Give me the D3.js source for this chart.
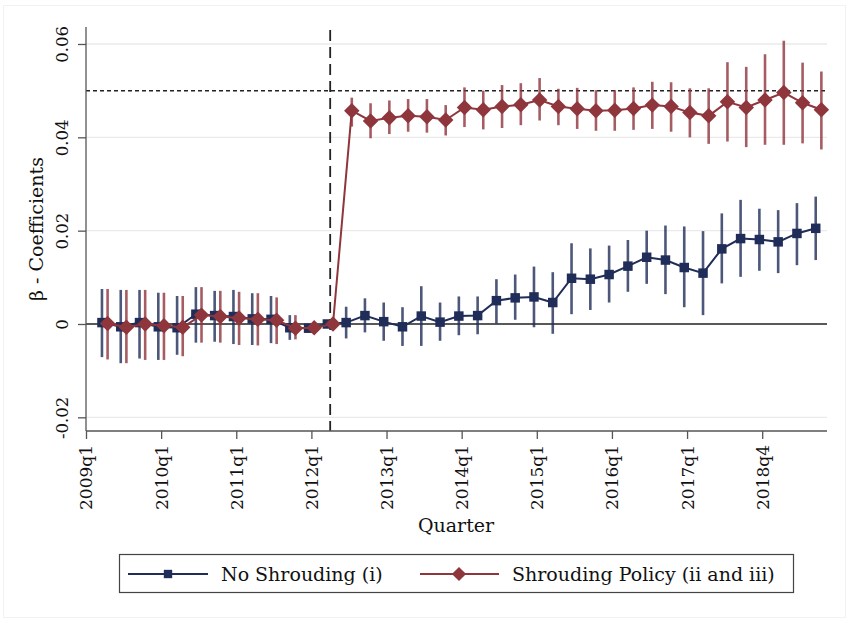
<!DOCTYPE html>
<html><head><meta charset="utf-8">
<script src="https://cdn.jsdelivr.net/npm/d3@7"></script>
<style>body{margin:0;background:#fff}svg{display:block}</style>
</head><body><svg id="c" width="850" height="621"></svg>
<script>
const quarterIndex = [1,2,3,4,5,6,7,8,9,10,11,12,13,14,15,16,17,18,19,20,21,22,23,24,25,26,27,28,29,30,31,32,33,34,35,36,37,38,39];
const noShroud = [0.0003,-0.0006,0.0003,-0.0006,-0.0008,0.0021,0.0018,0.0016,0.0011,0.0010,-0.0008,-0.0009,0,0.0003,0.0018,0.0005,-0.0006,0.0017,0.0004,0.0017,0.0018,0.0050,0.0056,0.0058,0.0046,0.0098,0.0096,0.0106,0.0124,0.0143,0.0137,0.0121,0.0109,0.0161,0.0183,0.0181,0.0176,0.0194,0.0205];
const noShroudLo = [-0.0071,-0.0084,-0.0074,-0.0077,-0.0066,-0.0040,-0.0038,-0.0043,-0.0045,-0.0041,-0.0034,-0.0018,0,-0.0031,-0.0018,-0.0036,-0.0047,-0.0047,-0.0036,-0.0024,-0.0022,0.0001,0.0009,-0.0007,-0.0021,0.0021,0.0030,0.0046,0.0069,0.0086,0.0064,0.0036,0.0019,0.0087,0.0101,0.0114,0.0109,0.0126,0.0137];
const noShroudHi = [0.0075,0.0073,0.0073,0.0067,0.0060,0.0079,0.0071,0.0073,0.0066,0.0060,0.0019,0.0000,0,0.0037,0.0055,0.0046,0.0036,0.0081,0.0046,0.0059,0.0059,0.0096,0.0106,0.0123,0.0111,0.0173,0.0162,0.0168,0.0180,0.0200,0.0211,0.0209,0.0199,0.0237,0.0266,0.0247,0.0244,0.0259,0.0273];
const shroud = [0.0001,-0.0007,0.0000,-0.0004,-0.0007,0.0019,0.0016,0.0013,0.0010,0.0008,-0.0009,-0.0008,0,0.0457,0.0435,0.0442,0.0446,0.0444,0.0437,0.0464,0.0459,0.0466,0.0470,0.0480,0.0466,0.0461,0.0457,0.0458,0.0462,0.0469,0.0466,0.0453,0.0446,0.0476,0.0464,0.0480,0.0496,0.0474,0.0459];
const shroudLo = [-0.0076,-0.0084,-0.0077,-0.0077,-0.0069,-0.0040,-0.0040,-0.0045,-0.0046,-0.0043,-0.0033,-0.0016,0,0.0423,0.0398,0.0407,0.0412,0.0410,0.0404,0.0422,0.0417,0.0420,0.0426,0.0436,0.0426,0.0418,0.0414,0.0414,0.0416,0.0418,0.0412,0.0400,0.0386,0.0391,0.0379,0.0384,0.0384,0.0387,0.0374];
const shroudHi = [0.0075,0.0073,0.0073,0.0067,0.0060,0.0079,0.0071,0.0069,0.0066,0.0057,0.0019,0.0000,0,0.0485,0.0473,0.0479,0.0482,0.0482,0.0469,0.0507,0.0500,0.0512,0.0516,0.0527,0.0504,0.0506,0.0501,0.0501,0.0507,0.0519,0.0518,0.0505,0.0505,0.0561,0.0551,0.0578,0.0607,0.0560,0.0541];
const xTickPos = [0,4,8,12,16,20,24,28,32,36];
const xTickLabels = ["2009q1","2010q1","2011q1","2012q1","2013q1","2014q1","2015q1","2016q1","2017q1","2018q4"];
const yTicks = [-0.02,0,0.02,0.04,0.06];
const yTickLabels = ["-0.02","0","0.02","0.04","0.06"];
const policyQuarter = 13;
const targetLevel = 0.05;
const seriesNames = ["No Shrouding (i)","Shrouding Policy (ii and iii)"];

const BLUE = "#1f2d58", RED = "#8f353c";
const FONT = "'DejaVu Serif', serif";
const svg = d3.select("#c");
svg.append("rect").attr("x",3.5).attr("y",5.5).attr("width",842).attr("height",612).attr("fill","#fff").attr("stroke","#f2f2f2");

const x = d3.scaleLinear().domain([0,39.45]).range([86,827]);
const y = d3.scaleLinear().domain([-0.02293,0.06364]).range([431,27]);

// grid
svg.append("g").selectAll("line").data(yTicks.filter(d=>d!==0)).join("line")
  .attr("x1",x(0)).attr("x2",x(39.45)).attr("y1",d=>y(d)).attr("y2",d=>y(d))
  .attr("stroke","#eaeaea").attr("stroke-width",1.3);

// zero line
svg.append("line").attr("x1",x(0)).attr("x2",x(39.45)).attr("y1",y(0)).attr("y2",y(0))
  .attr("stroke","#222").attr("stroke-width",1.6);
// dashed target line
svg.append("line").attr("x1",x(0)).attr("x2",x(39.45)).attr("y1",y(targetLevel)).attr("y2",y(targetLevel))
  .attr("stroke","#222").attr("stroke-width",1.5).attr("stroke-dasharray","4,3");
// dashed vertical
svg.append("line").attr("x1",x(policyQuarter)).attr("x2",x(policyQuarter)).attr("y1",30).attr("y2",y.range()[0])
  .attr("stroke","#222").attr("stroke-width",1.8).attr("stroke-dasharray","11,6");

// axes
const yAxis = d3.axisLeft(y).tickValues(yTicks).tickFormat((d,i)=>yTickLabels[i]).tickSize(8).tickPadding(4);
const gy = svg.append("g").attr("transform",`translate(${x(0)},0)`).call(yAxis);
gy.select(".domain").attr("stroke","#555").attr("stroke-width",1.3).attr("d",`M-0,${y.range()[0]}V27`);
gy.selectAll(".tick line").attr("stroke","#555").attr("stroke-width",1.3);
gy.selectAll(".tick text").attr("font-family",FONT).attr("font-size",16.5).attr("fill","#111")
  .attr("transform","rotate(-90)").attr("text-anchor","middle").attr("x",0).attr("y",-18).attr("dy",0);

const xAxis = d3.axisBottom(x).tickValues(xTickPos).tickFormat((d,i)=>xTickLabels[i]).tickSize(8);
const gx = svg.append("g").attr("transform",`translate(0,${y.range()[0]})`).call(xAxis);
gx.select(".domain").attr("stroke","#555").attr("stroke-width",1.3).attr("d",`M${x(0)},0H${x(39.45)}`);
gx.selectAll(".tick line").attr("stroke","#555").attr("stroke-width",1.3);
gx.selectAll(".tick text").attr("font-family",FONT).attr("font-size",17).attr("fill","#111")
  .attr("transform","rotate(-90)").attr("text-anchor","end").attr("x",-14).attr("y",0).attr("dy","0.35em");

// axis titles
svg.append("text").attr("x",456).attr("y",532).attr("text-anchor","middle").attr("font-family",FONT).attr("font-size",19).attr("fill","#111").text("Quarter");
svg.append("text").attr("transform",`translate(43,${(27+431)/2}) rotate(-90)`).attr("text-anchor","middle").attr("font-family",FONT).attr("font-size",19).attr("fill","#111").text("β - Coefficients");

function drawSeries(vals, lo, hi, off, color, shape, size){
  const data = quarterIndex.map((q,i)=>({x:q+off, v:vals[i], lo:lo[i], hi:hi[i]}));
  const g = svg.append("g");
  g.selectAll("line.ci").data(data.filter(d=>d.hi!==d.lo)).join("line").attr("class","ci")
    .attr("x1",d=>x(d.x)).attr("x2",d=>x(d.x)).attr("y1",d=>y(d.lo)).attr("y2",d=>y(d.hi))
    .attr("stroke",color).attr("stroke-opacity",0.8).attr("stroke-width",2.6);
  g.append("path").datum(data).attr("d",d3.line().x(d=>x(d.x)).y(d=>y(d.v)))
    .attr("fill","none").attr("stroke",color).attr("stroke-width",2);
  g.selectAll("path.m").data(data).join("path").attr("class","m")
    .attr("transform",d=>`translate(${x(d.x)},${y(d.v)})`)
    .attr("d",d3.symbol().type(shape).size(size)).attr("fill",color);
}
const diamond = {draw(ctx,size){const r=Math.sqrt(size/2);ctx.moveTo(0,-r);ctx.lineTo(r,0);ctx.lineTo(0,r);ctx.lineTo(-r,0);ctx.closePath();}};
drawSeries(noShroud,noShroudLo,noShroudHi,-0.15,BLUE,d3.symbolSquare,90);
drawSeries(shroud,shroudLo,shroudHi,0.15,RED,diamond,120);

// legend
const lg = svg.append("g");
lg.append("rect").attr("x",119.5).attr("y",554.5).attr("width",674).attr("height",38).attr("fill","#fff").attr("stroke","#444").attr("stroke-width",1.2);
const ly = 574;
lg.append("line").attr("x1",128).attr("x2",208).attr("y1",ly).attr("y2",ly).attr("stroke",BLUE).attr("stroke-width",2);
lg.append("path").attr("transform",`translate(168,${ly})`).attr("d",d3.symbol().type(d3.symbolSquare).size(70)).attr("fill",BLUE);
lg.append("text").attr("x",221).attr("y",ly).attr("dy","0.35em").attr("font-family",FONT).attr("font-size",19).attr("fill","#111").text(seriesNames[0]);
lg.append("line").attr("x1",420).attr("x2",499).attr("y1",ly).attr("y2",ly).attr("stroke",RED).attr("stroke-width",2);
lg.append("path").attr("transform",`translate(459,${ly})`).attr("d",d3.symbol().type(diamond).size(100)).attr("fill",RED);
lg.append("text").attr("x",512).attr("y",ly).attr("dy","0.35em").attr("font-family",FONT).attr("font-size",19).attr("fill","#111").text(seriesNames[1]);
</script></body></html>
